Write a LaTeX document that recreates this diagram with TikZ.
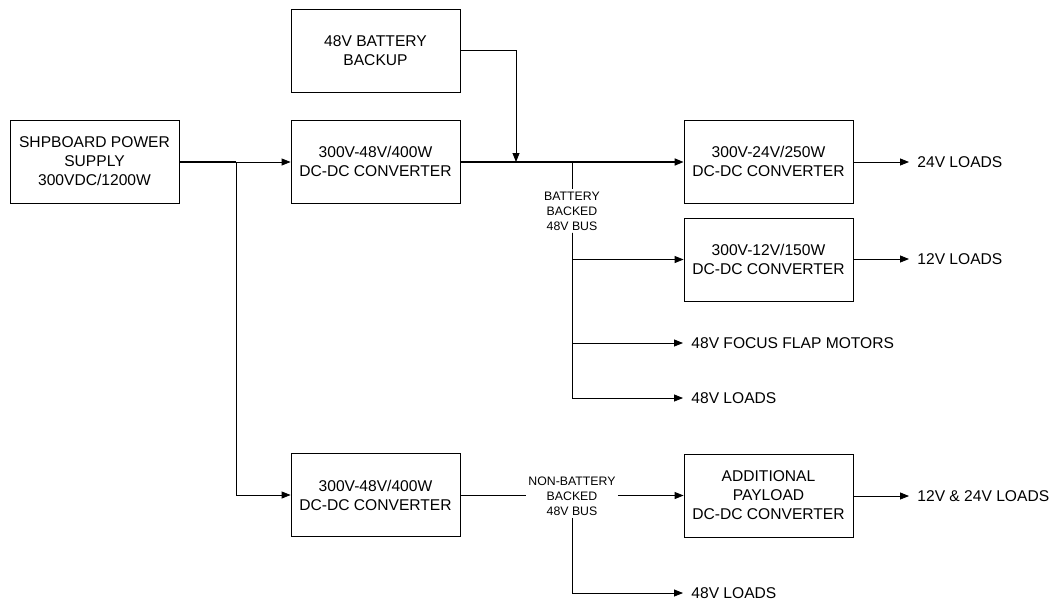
\documentclass[tikz,border=0pt]{standalone}
\usepackage{fontspec}
\setmainfont{Liberation Sans}
\usetikzlibrary{arrows.meta}

\begin{document}
\begin{tikzpicture}[x=1pt, y=-1pt, line width=0.8pt,
    >={Triangle[length=9pt,width=7pt]},
    blk/.style={draw, minimum width=169pt, minimum height=83pt, align=center,
      inner sep=0pt, font=\fontsize{15.6}{19}\selectfont},
    bus/.style={align=center, inner sep=2pt, font=\fontsize{12.3}{15}\selectfont},
    load/.style={anchor=west, inner sep=0pt, font=\fontsize{15.6}{19}\selectfont},
    main/.style={line width=1.6pt}]

    \useasboundingbox (0, 0) rectangle (1051, 602);

    \node[blk] (a) at (94.5, 161.5) {SHPBOARD POWER\\SUPPLY\\300VDC/1200W};
    \node[blk] (b) at (375.5, 50.5) {48V BATTERY\\BACKUP};
    \node[blk] (c) at (375.5, 161.5) {300V-48V/400W\\DC-DC CONVERTER};
    \node[blk] (d) at (768.5, 161.5) {300V-24V/250W\\DC-DC CONVERTER};
    \node[blk] (e) at (768.5, 259.5) {300V-12V/150W\\DC-DC CONVERTER};
    \node[blk] (f) at (375.5, 495) {300V-48V/400W\\DC-DC CONVERTER};
    \node[blk] (g) at (768.5, 495.5) {ADDITIONAL\\PAYLOAD\\DC-DC CONVERTER};

    \node[bus] (p) at (572, 211) {BATTERY\\BACKED\\48V BUS};
    \node[bus] (q) at (572, 496) {NON-BATTERY\\BACKED\\48V BUS};

    \node[load] (h) at (917, 162) {24V LOADS};
    \node[load] (i) at (917, 259) {12V LOADS};
    \node[load] (j) at (691, 343) {48V FOCUS FLAP MOTORS};
    \node[load] (k) at (691, 398) {48V LOADS};
    \node[load] (l) at (917, 496) {12V \& 24V LOADS};
    \node[load] (m) at (691, 593) {48V LOADS};

    \coordinate (s) at (236, 162);
    \coordinate (t) at (516, 162);
    \coordinate (u) at (572, 162);

    % supply to both converters
    \draw[main] (a.east |- s) -- (s);
    \draw[->] (s) -- (c.west |- s);
    \draw[->] (s) |- (f.west);

    % battery backed bus
    \draw[main] (c.east |- s) -- (u);
    \draw[->, main] (u) -- (d.west |- u);
    \draw[->] (b.east) -| (t);
    \draw (u) -- (p.north);
    \draw[->] (p.south) |- (e.west);
    \draw[->] (p.south) |- ([xshift=-8pt]j.west);
    \draw[->] (p.south) |- ([xshift=-8pt]k.west);
    \draw[->] (d.east |- h) -- ([xshift=-8pt]h.west);
    \draw[->] (e.east |- i) -- ([xshift=-8pt]i.west);

    % non-battery backed bus
    \draw (f.east) -- (q.west |- f.east);
    \draw[->] (q.east |- g.west) -- (g.west);
    \draw[->] (q.south) |- ([xshift=-8pt]m.west);
    \draw[->] (g.east |- l) -- ([xshift=-8pt]l.west);

\end{tikzpicture}
\end{document}
